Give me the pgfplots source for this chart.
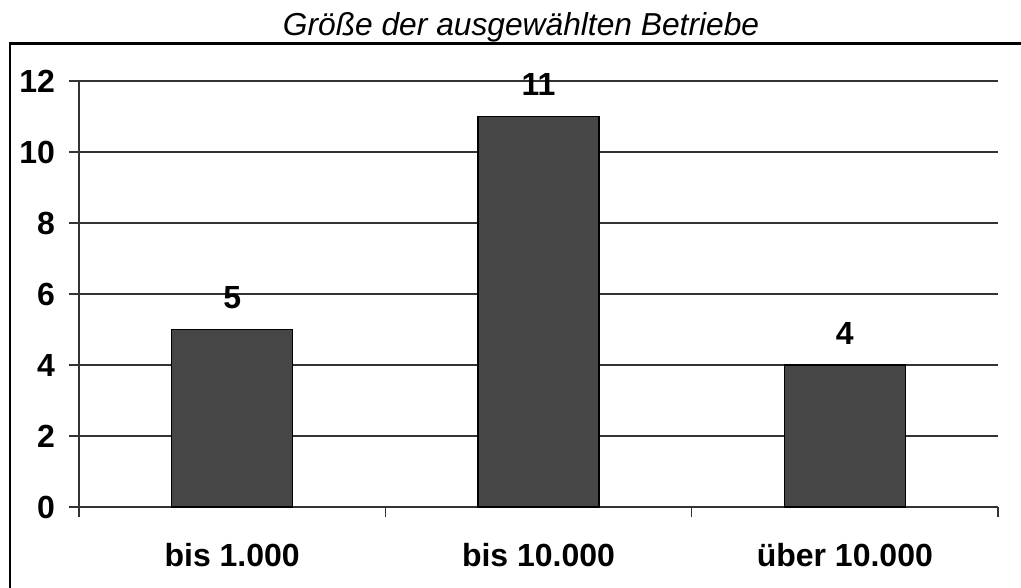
\documentclass[border=0pt]{standalone}
\usepackage{fontspec}
\setmainfont{Liberation Sans}
\usepackage{pgfplots}
\pgfplotsset{compat=1.18}
\definecolor{barfill}{HTML}{464646}
\definecolor{gridc}{HTML}{333333}
\begin{document}
\begin{tikzpicture}
\begin{axis}[
  at={(0pt,0pt)}, anchor=origin,
  scale only axis,
  width=689.25pt, height=319.5pt,
  xmin=0.5, xmax=3.5, ymin=0, ymax=12,
  axis lines=left,
  axis line style={-, gridc, line width=0.8pt},
  ytick={0,2,...,12},
  ymajorgrids,
  grid style={gridc, line width=0.8pt},
  xtick={0.5,1.5,2.5,3.5},
  xticklabels={},
  extra x ticks={1,2,3},
  extra x tick labels={bis 1.000,bis 10.000,über 10.000},
  extra x tick style={major tick length=0pt, grid=none},
  tick align=outside,
  major tick length=7.5pt,
  tick style={gridc, line width=0.8pt},
  /pgf/number format/assume math mode=true,
  ticklabel style={font=\fontsize{24}{28}\selectfont\bfseries},
  xticklabel style={yshift=-24pt},
  yticklabel style={xshift=-7pt},
  bar width=90.75pt,
  nodes near coords,
  every node near coord/.append style={font=\fontsize{24}{28}\selectfont\bfseries, yshift=12pt},
  clip=false,
]
\addplot[ybar, fill=barfill, draw=black, line width=0.8pt] coordinates {(1,5) (2,11) (3,4)};
\end{axis}
\draw[black, line width=1.6pt] (-52pt,-80pt) -- (-52pt,347.6pt) -- (720pt,347.6pt);
\node[anchor=base, font=\fontsize{23.8}{28}\selectfont\itshape] at (331.5pt,354pt) {Größe der ausgewählten Betriebe};
\pgfresetboundingbox
\useasboundingbox (-59.25pt,-60pt) rectangle (706.5pt,380.25pt);
\end{tikzpicture}
\end{document}
